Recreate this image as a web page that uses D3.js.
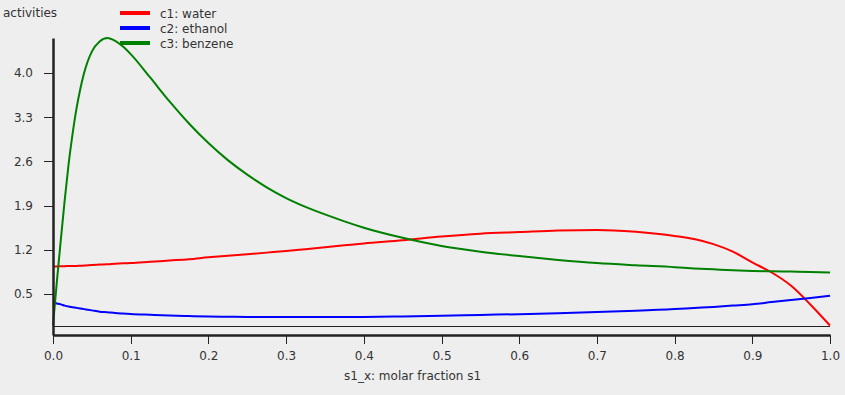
<!DOCTYPE html>
<html>
<head>
<meta charset="utf-8">
<script src="https://cdn.jsdelivr.net/npm/d3@7"></script>
<style>
  html, body { margin: 0; padding: 0; background: #eeeeee; }
  svg { display: block; font-family: "DejaVu Sans", sans-serif; }
  text { fill: #333333; font-size: 12px; }
</style>
</head>
<body>
<svg id="chart" width="845" height="395"></svg>
<script>
// ---- data ----
const xValues = [0, 0.005, 0.01, 0.015, 0.02, 0.025, 0.03, 0.035, 0.04, 0.05, 0.06, 0.07, 0.08, 0.09, 0.1,
  0.125, 0.15, 0.175, 0.2, 0.225, 0.25, 0.275, 0.3, 0.325, 0.35, 0.375, 0.4, 0.45, 0.5, 0.55, 0.6, 0.65, 0.7, 0.75, 0.8,
  0.825, 0.85, 0.875, 0.9, 0.925, 0.95, 0.975, 1.0];
const waterValues = [0.935, 0.937, 0.94, 0.94, 0.943, 0.945, 0.945, 0.948, 0.95, 0.96, 0.965, 0.97, 0.978, 0.985, 0.99,
  1.01, 1.03, 1.05, 1.08, 1.105, 1.13, 1.155, 1.18, 1.21, 1.24, 1.27, 1.30, 1.35, 1.41, 1.455, 1.48, 1.505, 1.515, 1.485, 1.42,
  1.37, 1.29, 1.17, 1.0, 0.84, 0.63, 0.33, 0.0];
const ethanolValues = [0.365, 0.35, 0.335, 0.315, 0.30, 0.29, 0.28, 0.27, 0.26, 0.24, 0.22, 0.21, 0.198, 0.19, 0.183,
  0.17, 0.158, 0.15, 0.143, 0.14, 0.137, 0.136, 0.135, 0.135, 0.135, 0.136, 0.137, 0.145, 0.155, 0.168, 0.18, 0.195, 0.213, 0.233, 0.26,
  0.278, 0.295, 0.316, 0.337, 0.372, 0.405, 0.437, 0.47];
const benzeneValues = [0, 0.70, 1.35, 1.98, 2.55, 3.02, 3.42, 3.74, 4.00, 4.34, 4.50, 4.555, 4.51, 4.42, 4.30,
  3.93, 3.55, 3.20, 2.89, 2.62, 2.39, 2.19, 2.02, 1.88, 1.76, 1.65, 1.55, 1.39, 1.26, 1.17, 1.10, 1.04, 0.99, 0.955, 0.925,
  0.905, 0.89, 0.875, 0.865, 0.86, 0.855, 0.85, 0.84];
const seriesNames = ["c1: water", "c2: ethanol", "c3: benzene"];
const seriesColors = ["#ff0000", "#0000ff", "#008000"];
const yTickValues = [0.5, 1.2, 1.9, 2.6, 3.3, 4.0];
const xTickValues = [0, 0.1, 0.2, 0.3, 0.4, 0.5, 0.6, 0.7, 0.8, 0.9, 1.0];
const yTitle = "activities";
const xTitle = "s1_x: molar fraction s1";

// ---- chart ----
(function () {
  const svg = d3.select("#chart");
  const mLeft = 53, mRight = 830, mTop = 38, mBottom = 335;
  const x = d3.scaleLinear().domain([0, 1]).range([mLeft, mRight]);
  const y = d3.scaleLinear().domain([-0.15, 4.555]).range([mBottom, mTop]);

  // zero line
  svg.append("line")
    .attr("x1", x(0)).attr("x2", x(1))
    .attr("y1", Math.round(y(0)) + 0.5).attr("y2", Math.round(y(0)) + 0.5)
    .attr("stroke", "#222").attr("stroke-width", 1).attr("shape-rendering", "crispEdges");

  const allSeries = [waterValues, ethanolValues, benzeneValues];
  const line = d3.line()
    .x((d, i) => x(xValues[i]))
    .y(d => y(d))
    .curve(d3.curveMonotoneX);

  allSeries.forEach((vals, k) => {
    svg.append("path")
      .datum(vals)
      .attr("d", line)
      .attr("fill", "none")
      .attr("stroke", seriesColors[k])
      .attr("stroke-width", 2);
  });

  // axes
  const yAxis = d3.axisLeft(y).tickValues(yTickValues).tickFormat(d3.format(".1f"))
    .tickSizeInner(9).tickSizeOuter(0).tickPadding(11);
  const gy = svg.append("g").attr("transform", `translate(${mLeft},0)`).call(yAxis);
  const xAxis = d3.axisBottom(x).tickValues(xTickValues).tickFormat(d3.format(".1f"))
    .tickSizeInner(9).tickSizeOuter(0).tickPadding(7);
  const gx = svg.append("g").attr("transform", `translate(0,${mBottom})`).call(xAxis);

  [gx, gy].forEach(g => {
    g.attr("font-family", "DejaVu Sans, sans-serif").attr("font-size", 12);
    g.select(".domain").attr("stroke", "#222").attr("stroke-width", 2.5);
    g.selectAll(".tick line").attr("stroke", "#222").attr("stroke-width", 1).attr("shape-rendering", "crispEdges");
    g.selectAll(".tick text").attr("fill", "#333");
  });

  // titles
  svg.append("text").attr("x", 3).attr("y", 17).text(yTitle);
  svg.append("text").attr("x", 344).attr("y", 380).text(xTitle);

  // legend
  seriesNames.forEach((name, k) => {
    const cy = 13 + k * 15;
    svg.append("line")
      .attr("x1", 120).attr("x2", 150).attr("y1", cy).attr("y2", cy)
      .attr("stroke", seriesColors[k]).attr("stroke-width", 4);
    svg.append("text").attr("x", 160).attr("y", cy + 4.5).text(name);
  });
})();
</script>
</body>
</html>
